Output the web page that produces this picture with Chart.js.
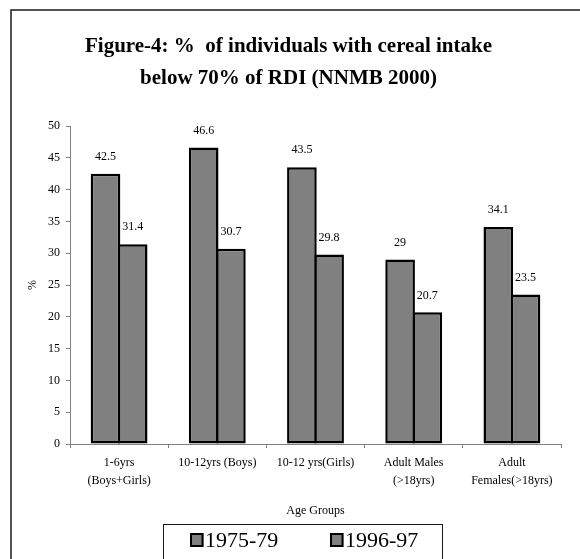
<!DOCTYPE html>
<html>
<head>
<meta charset="utf-8">
<title>Cereal intake below 70% of RDI</title>
<script src="https://cdn.jsdelivr.net/npm/chart.js@4/dist/chart.umd.min.js"></script>
<style>
  html, body { margin: 0; padding: 0; background: #ffffff; }
  #wrap { width: 580px; height: 559px; position: relative; }
</style>
</head>
<body>
<div id="wrap"><canvas id="chart" width="580" height="559"></canvas></div>
<script>
// Age groups on the category axis (multi-line labels)
const ageGroups = [
  ['1-6yrs', '(Boys+Girls)'],
  ['10-12yrs (Boys)'],
  ['10-12 yrs(Girls)'],
  ['Adult Males', '(>18yrs)'],
  ['Adult', 'Females(>18yrs)']
];

// Survey periods
const seriesNames = ['1975-79', '1996-97'];

// % of individuals with cereal intake below 70% of RDI
const values1975 = [42.5, 46.6, 43.5, 29, 34.1];
const values1996 = [31.4, 30.7, 29.8, 20.7, 23.5];

// Value axis ticks
const yMin = 0;
const yMax = 50;
const yStep = 5;

const titleLines = ['Figure-4: %  of individuals with cereal intake', 'below 70% of RDI (NNMB 2000)'];
const xAxisTitle = 'Age Groups';
const yAxisTitle = '%';

const SERIF = '"Liberation Serif", "Times New Roman", Times, serif';
const BAR_FILL = '#808080';
const AXIS_GREY = '#808080';

// White page, outer frame and heading
const framePlugin = {
  id: 'frame',
  beforeDraw(chart) {
    const ctx = chart.ctx;
    ctx.save();
    ctx.fillStyle = '#ffffff';
    ctx.fillRect(0, 0, chart.width, chart.height);
    ctx.strokeStyle = '#1a1a1a';
    ctx.lineWidth = 1.5;
    ctx.strokeRect(11, 10, 600, 600);
    ctx.fillStyle = '#000000';
    ctx.font = 'bold 21px ' + SERIF;
    ctx.textAlign = 'center';
    ctx.textBaseline = 'alphabetic';
    ctx.fillText(titleLines[0], 288.5, 51.5);
    ctx.fillText(titleLines[1], 288.5, 84);
    ctx.restore();
  }
};

// Value labels above each bar
const valueLabelPlugin = {
  id: 'valueLabels',
  afterDatasetsDraw(chart) {
    const ctx = chart.ctx;
    ctx.save();
    ctx.fillStyle = '#000000';
    ctx.font = '12px ' + SERIF;
    ctx.textAlign = 'center';
    ctx.textBaseline = 'middle';
    chart.data.datasets.forEach((ds, di) => {
      const meta = chart.getDatasetMeta(di);
      meta.data.forEach((bar, i) => {
        ctx.fillText(String(ds.data[i]), bar.x, bar.y - 17);
      });
    });
    ctx.restore();
  }
};

// Boxed legend under the axis title
const boxedLegendPlugin = {
  id: 'boxedLegend',
  afterDraw(chart) {
    const ctx = chart.ctx;
    ctx.save();
    ctx.strokeStyle = '#1a1a1a';
    ctx.lineWidth = 1;
    ctx.strokeRect(163.5, 524.5, 279, 60);
    const itemX = [190, 330];
    ctx.font = '22px ' + SERIF;
    ctx.textAlign = 'left';
    ctx.textBaseline = 'alphabetic';
    chart.data.datasets.forEach((ds, di) => {
      const x = itemX[di];
      ctx.fillStyle = ds.backgroundColor;
      ctx.fillRect(x, 533, 13.5, 14);
      ctx.strokeStyle = '#000000';
      ctx.lineWidth = 2;
      ctx.strokeRect(x + 1, 534, 11.5, 12);
      ctx.fillStyle = '#000000';
      ctx.fillText(ds.label, x + 15, 547.3);
    });
    ctx.restore();
  }
};

new Chart(document.getElementById('chart'), {
  type: 'bar',
  data: {
    labels: ageGroups,
    datasets: [
      {
        label: seriesNames[0],
        data: values1975,
        backgroundColor: BAR_FILL,
        borderColor: '#000000',
        borderWidth: 2.5,
        borderSkipped: false
      },
      {
        label: seriesNames[1],
        data: values1996,
        backgroundColor: BAR_FILL,
        borderColor: '#000000',
        borderWidth: 2.5,
        borderSkipped: false
      }
    ]
  },
  options: {
    responsive: false,
    animation: false,
    events: [],
    layout: { padding: { top: 126, left: 20, right: 19, bottom: 37 } },
    datasets: {
      bar: { categoryPercentage: 0.554, barPercentage: 1.09 }
    },
    plugins: {
      legend: { display: false },
      title: { display: false },
      tooltip: { enabled: false }
    },
    scales: {
      x: {
        grid: {
          display: true,
          offset: true,
          drawOnChartArea: false,
          drawTicks: true,
          tickLength: 4,
          color: AXIS_GREY
        },
        border: { display: true, color: AXIS_GREY, width: 1 },
        ticks: {
          color: '#000000',
          font: { family: SERIF, size: 12, lineHeight: '18px' },
          padding: 6,
          maxRotation: 0,
          minRotation: 0,
          autoSkip: false
        },
        title: {
          display: true,
          text: xAxisTitle,
          color: '#000000',
          font: { family: SERIF, size: 12 },
          padding: { top: 4, bottom: 4 }
        },
        afterFit(scale) { scale.height = 78; }
      },
      y: {
        min: yMin,
        max: yMax,
        grid: {
          display: true,
          drawOnChartArea: false,
          drawTicks: true,
          tickLength: 4,
          color: AXIS_GREY
        },
        border: { display: true, color: AXIS_GREY, width: 1 },
        ticks: {
          stepSize: yStep,
          color: '#000000',
          font: { family: SERIF, size: 12 },
          padding: 6
        },
        title: {
          display: true,
          text: yAxisTitle,
          color: '#000000',
          font: { family: SERIF, size: 12 },
          padding: { top: 6, bottom: 4 }
        },
        afterFit(scale) { scale.width = 50; }
      }
    }
  },
  plugins: [framePlugin, valueLabelPlugin, boxedLegendPlugin]
});
</script>
</body>
</html>
